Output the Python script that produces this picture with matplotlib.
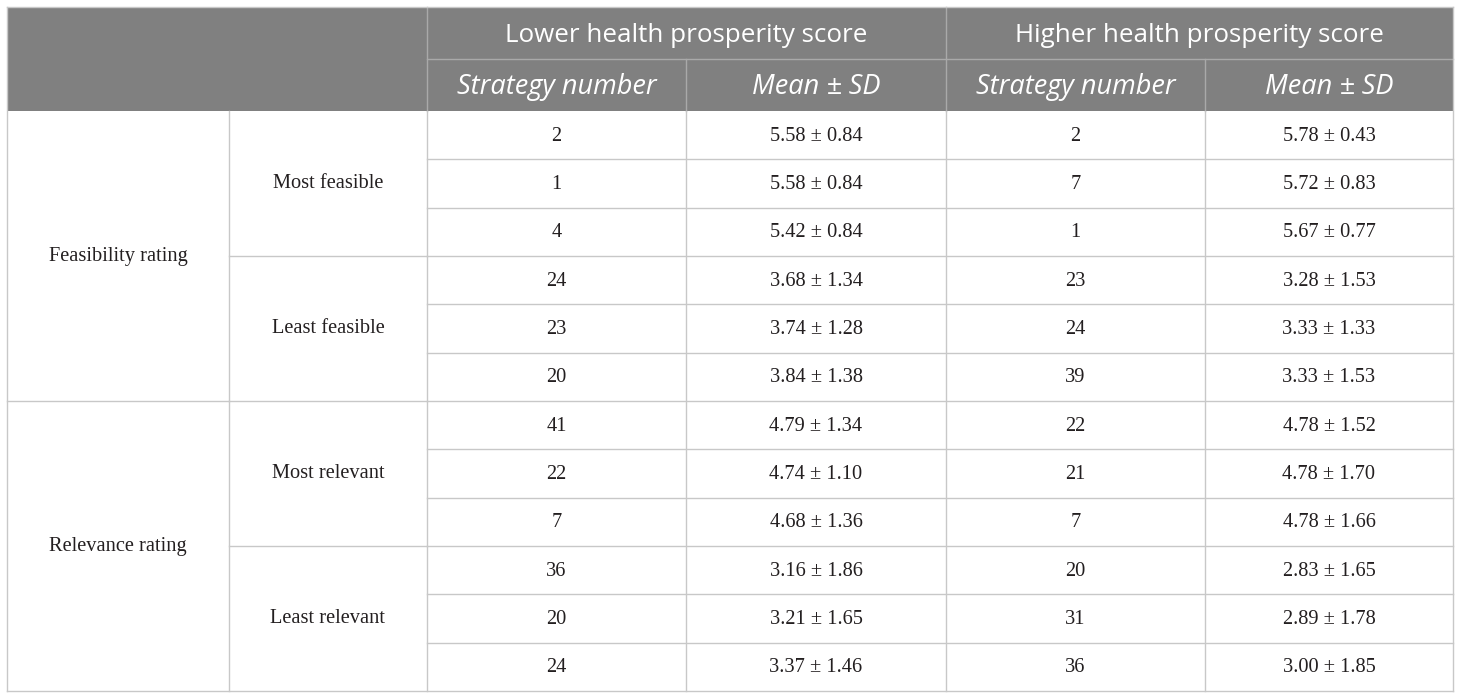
import matplotlib
matplotlib.use("Agg")
import matplotlib.pyplot as plt
from matplotlib.patches import Rectangle

# ---- data ----
groups = ["Lower health prosperity score", "Higher health prosperity score"]
subheaders = ["Strategy number", "Mean \u00b1 SD"]
rating_types = ["Feasibility rating", "Relevance rating"]
sub_categories = ["Most feasible", "Least feasible", "Most relevant", "Least relevant"]
lower_strategy = ["2", "1", "4", "24", "23", "20", "41", "22", "7", "36", "20", "24"]
lower_mean_sd = ["5.58 \u00b1 0.84", "5.58 \u00b1 0.84", "5.42 \u00b1 0.84",
                 "3.68 \u00b1 1.34", "3.74 \u00b1 1.28", "3.84 \u00b1 1.38",
                 "4.79 \u00b1 1.34", "4.74 \u00b1 1.10", "4.68 \u00b1 1.36",
                 "3.16 \u00b1 1.86", "3.21 \u00b1 1.65", "3.37 \u00b1 1.46"]
higher_strategy = ["2", "7", "1", "23", "24", "39", "22", "21", "7", "20", "31", "36"]
higher_mean_sd = ["5.78 \u00b1 0.43", "5.72 \u00b1 0.83", "5.67 \u00b1 0.77",
                  "3.28 \u00b1 1.53", "3.33 \u00b1 1.33", "3.33 \u00b1 1.53",
                  "4.78 \u00b1 1.52", "4.78 \u00b1 1.70", "4.78 \u00b1 1.66",
                  "2.83 \u00b1 1.65", "2.89 \u00b1 1.78", "3.00 \u00b1 1.85"]

# ---- layout (pixels) ----
W, H = 1460, 699
col_edges = [7, 229, 427, 686, 946, 1205, 1453]
top, h1, h2, bottom = 7, 59, 111, 691
n_rows = len(lower_strategy)
row_h = (bottom - h2) / n_rows

header_bg = "#808080"
header_line = "#a9a9a9"
grid = "#c8c8c8"
text_col = "#231f20"

fig = plt.figure(figsize=(W / 100, H / 100), dpi=100)
ax = fig.add_axes([0, 0, 1, 1])
ax.set_xlim(0, W)
ax.set_ylim(H, 0)
ax.axis("off")

# header background
ax.add_patch(Rectangle((col_edges[0], top), col_edges[-1] - col_edges[0], h2 - top,
                       facecolor=header_bg, edgecolor="none", zorder=1))

# header lines
lw = 1.0
ax.plot([col_edges[2], col_edges[-1]], [h1, h1], color=header_line, lw=lw, zorder=2)
for x in (col_edges[2], col_edges[4]):
    ax.plot([x, x], [top, h2], color=header_line, lw=lw, zorder=2)
for x in (col_edges[3], col_edges[5]):
    ax.plot([x, x], [h1, h2], color=header_line, lw=lw, zorder=2)

# header text
hfont = dict(family="Open Sans", color="white", ha="center", va="center", zorder=3)
for gi, g in enumerate(groups):
    x0, x1 = col_edges[2 + 2 * gi], col_edges[4 + 2 * gi]
    ax.text((x0 + x1) / 2, (top + h1) / 2 + 2, g, fontsize=18.7, **hfont)
    for si, s in enumerate(subheaders):
        xa, xb = col_edges[2 + 2 * gi + si], col_edges[3 + 2 * gi + si]
        ax.text((xa + xb) / 2, (h1 + h2) / 2 + 2, s, fontsize=19.5, style="italic",
                **hfont)

# body grid
def row_y(i):
    return h2 + i * row_h

for i in range(1, n_rows):
    ax.plot([col_edges[2], col_edges[-1]], [row_y(i), row_y(i)], color=grid, lw=lw, zorder=2)
for i in (3, 6, 9):
    ax.plot([col_edges[1], col_edges[2]], [row_y(i), row_y(i)], color=grid, lw=lw, zorder=2)
ax.plot([col_edges[0], col_edges[1]], [row_y(6), row_y(6)], color=grid, lw=lw, zorder=2)
for x in col_edges[1:-1]:
    ax.plot([x, x], [h2, bottom], color=grid, lw=lw, zorder=2)
ax.plot([col_edges[0], col_edges[0]], [top, bottom], color=grid, lw=lw, zorder=2)
ax.plot([col_edges[-1], col_edges[-1]], [top, bottom], color=grid, lw=lw, zorder=2)
ax.plot([col_edges[0], col_edges[-1]], [top, top], color=grid, lw=lw, zorder=2)
ax.plot([col_edges[0], col_edges[-1]], [bottom, bottom], color=grid, lw=lw, zorder=2)

# body text
bfont = dict(family="Liberation Serif", color=text_col, ha="center", va="center",
             fontsize=14.7, zorder=3)
for ri, r in enumerate(rating_types):
    yc = (row_y(6 * ri) + row_y(6 * ri + 6)) / 2
    ax.text((col_edges[0] + col_edges[1]) / 2, yc, r, **bfont)
for si, s in enumerate(sub_categories):
    yc = (row_y(3 * si) + row_y(3 * si + 3)) / 2
    ax.text((col_edges[1] + col_edges[2]) / 2, yc, s, **bfont)
cols = [lower_strategy, lower_mean_sd, higher_strategy, higher_mean_sd]
for ci, col in enumerate(cols):
    xc = (col_edges[2 + ci] + col_edges[3 + ci]) / 2
    for i, v in enumerate(col):
        ax.text(xc, row_y(i) + row_h / 2 + 1, v, **bfont)

fig.savefig("out.png", dpi=100, facecolor="white")
